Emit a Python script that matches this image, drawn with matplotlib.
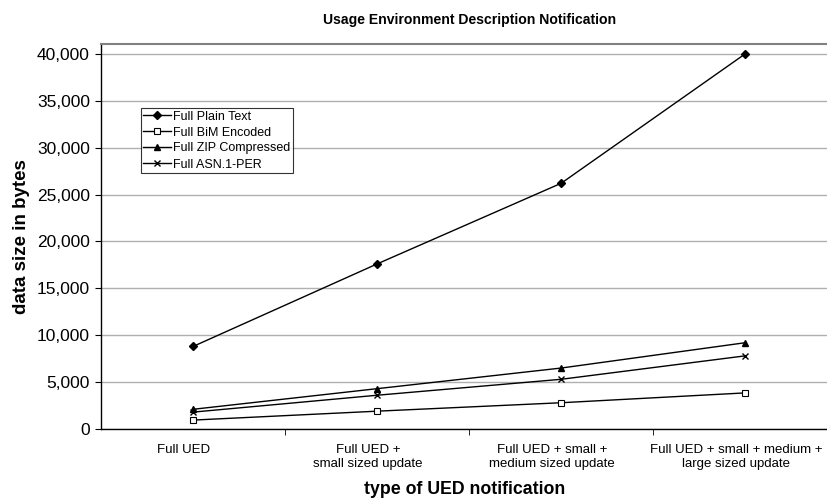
import numpy as np
import matplotlib.pyplot as plt
import matplotlib.transforms as mtransforms
from matplotlib.ticker import FuncFormatter, FixedLocator

plt.rcParams['font.family'] = ['Liberation Sans', 'DejaVu Sans']

categories = ["Full UED", "Full UED +\nsmall sized update",
              "Full UED + small +\nmedium sized update",
              "Full UED + small + medium +\nlarge sized update"]
plain_text = [8800, 17600, 26200, 40000]
bim_encoded = [950, 1900, 2800, 3850]
zip_compressed = [2100, 4300, 6500, 9200]
asn_per = [1800, 3600, 5300, 7800]

x = np.arange(len(categories))

fig = plt.figure(figsize=(8.28, 4.98), dpi=100)
ax = fig.add_axes([101/828, 69/498, 727/828, 384.5/498])

ax.plot(x, plain_text, color="black", lw=1, marker="D", ms=4, label="Full Plain Text")
ax.plot(x, bim_encoded, color="black", lw=1, marker="s", ms=5, mfc="white", mew=0.8, label="Full BiM Encoded")
ax.plot(x, zip_compressed, color="black", lw=1, marker="^", ms=5, label="Full ZIP Compressed")
ax.plot(x, asn_per, color="black", lw=1, marker="x", ms=5, mew=1, label="Full ASN.1-PER")

ax.set_xlim(-0.5, 3.45)
ax.set_ylim(0, 41000)
ax.set_yticks(np.arange(0, 40001, 5000))
ax.yaxis.set_major_formatter(FuncFormatter(lambda v, p: f"{int(v):,}"))
ax.grid(axis="y", color="#b0b0b0", lw=1)
ax.set_axisbelow(True)

ax.set_xticks(x)
ax.set_xticklabels(categories, fontsize=9.5)
ax.xaxis.set_minor_locator(FixedLocator([0.5, 1.5, 2.5]))
ax.tick_params(axis="x", which="major", length=0, pad=11)
ax.tick_params(axis="x", which="minor", length=4, color="black", direction="out")
ax.tick_params(axis="y", labelsize=12.5, length=4, color="black", pad=4)

# labels sit a bit left of the category centre in the original
shift = mtransforms.ScaledTranslation(-9/100, 0, fig.dpi_scale_trans)
for lbl in ax.get_xticklabels():
    lbl.set_transform(lbl.get_transform() + shift)

ax.spines["right"].set_visible(False)
ax.spines["top"].set_color("#808080")
ax.spines["top"].set_linewidth(1.5)
ax.spines["left"].set_linewidth(1)
ax.spines["bottom"].set_linewidth(1)

ax.set_ylabel("data size in bytes", fontsize=13.5, fontweight="bold", labelpad=5)
ax.set_xlabel("type of UED notification", fontsize=12.8, fontweight="bold", labelpad=8)
fig.text(470/828, 1 - 20/498, "Usage Environment Description Notification",
         ha="center", va="center", fontsize=10.1, fontweight="bold")

leg = ax.legend(loc="upper left", bbox_to_anchor=(40/727, (429-108)/384.5),
                fontsize=9, frameon=True, fancybox=False, edgecolor="black",
                handlelength=2.2, handletextpad=0.15, borderpad=0.2, labelspacing=0.32,
                borderaxespad=0)
leg.get_frame().set_linewidth(0.8)

fig.savefig("out.png", dpi=100)
